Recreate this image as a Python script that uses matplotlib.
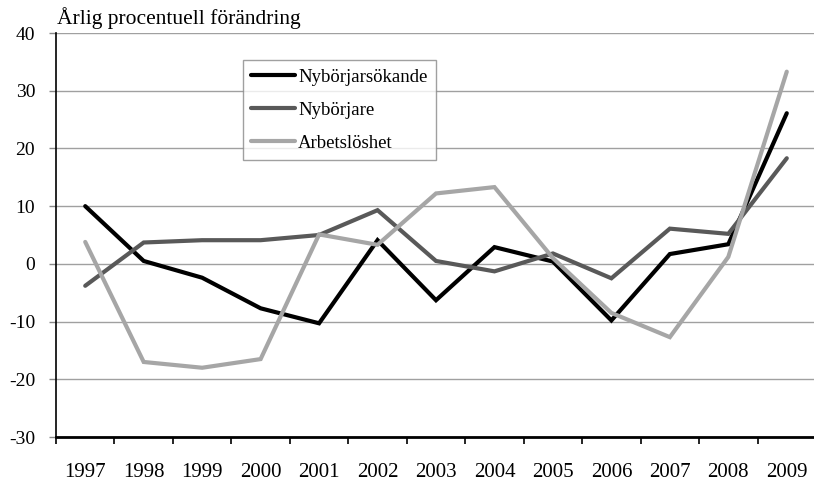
import matplotlib
matplotlib.use("Agg")
import matplotlib.pyplot as plt

years = ["1997", "1998", "1999", "2000", "2001", "2002", "2003",
         "2004", "2005", "2006", "2007", "2008", "2009"]
nyborjarsokande = [10.0, 0.5, -2.4, -7.7, -10.3, 4.1, -6.3, 2.9, 0.4, -9.8, 1.7, 3.4, 26.1]
nyborjare = [-3.8, 3.7, 4.1, 4.1, 5.0, 9.3, 0.5, -1.3, 1.8, -2.5, 6.1, 5.2, 18.3]
arbetsloshet = [3.8, -17.0, -18.0, -16.5, 5.1, 3.3, 12.2, 13.3, 1.0, -8.5, -12.7, 1.2, 33.3]
series_names = ["Nybörjarsökande", "Nybörjare", "Arbetslöshet"]
yticks = [-30, -20, -10, 0, 10, 20, 30, 40]

plt.rcParams['font.family'] = ['Liberation Serif', 'DejaVu Serif']

fig = plt.figure(figsize=(8.14, 4.84), dpi=100)
ax = fig.add_axes([56/814, 1-437/484, 760/814, 404/484])

x = list(range(len(years)))
colors = ["#000000", "#595959", "#a6a6a6"]
for vals, name, c in zip([nyborjarsokande, nyborjare, arbetsloshet], series_names, colors):
    ax.plot(x, vals, color=c, lw=3.0, label=name, solid_capstyle='round', solid_joinstyle='miter', zorder=3)

ax.set_ylim(-30, 40)
ax.set_xlim(-0.5, len(years) - 0.5)
ax.set_yticks(yticks)
ax.set_yticklabels([str(v) for v in yticks], fontsize=14)
for v in yticks:
    ax.axhline(v, color="#a0a0a0", lw=1.0, zorder=1)

ax.set_xticks(x)
ax.set_xticklabels(years, fontsize=15)
ax.set_xticks([i - 0.5 for i in range(len(years) + 1)], minor=True)
ax.tick_params(axis='x', which='major', length=0, pad=19)
ax.tick_params(axis='x', which='minor', length=5, width=1.2, direction='out')
ax.tick_params(axis='y', length=5, width=1.0, direction='out', pad=10, color="#888888")

for s in ['top', 'right']:
    ax.spines[s].set_visible(False)
ax.spines['left'].set_linewidth(1.2)
ax.spines['bottom'].set_linewidth(2.0)
ax.spines['bottom'].set_zorder(4)

leg = ax.legend(loc='upper left', bbox_to_anchor=(0.246, 0.933), borderaxespad=0,
                fontsize=13.5, frameon=True, fancybox=False, handlelength=2.3,
                handletextpad=0.2, labelspacing=0.85, borderpad=0.45)
leg.get_frame().set_edgecolor("#888888")
leg.get_frame().set_linewidth(1.0)

fig.text(57/814, 1-18/484, "Årlig procentuell förändring", fontsize=15.5, va='center', ha='left')

fig.savefig("out.png", dpi=100)
